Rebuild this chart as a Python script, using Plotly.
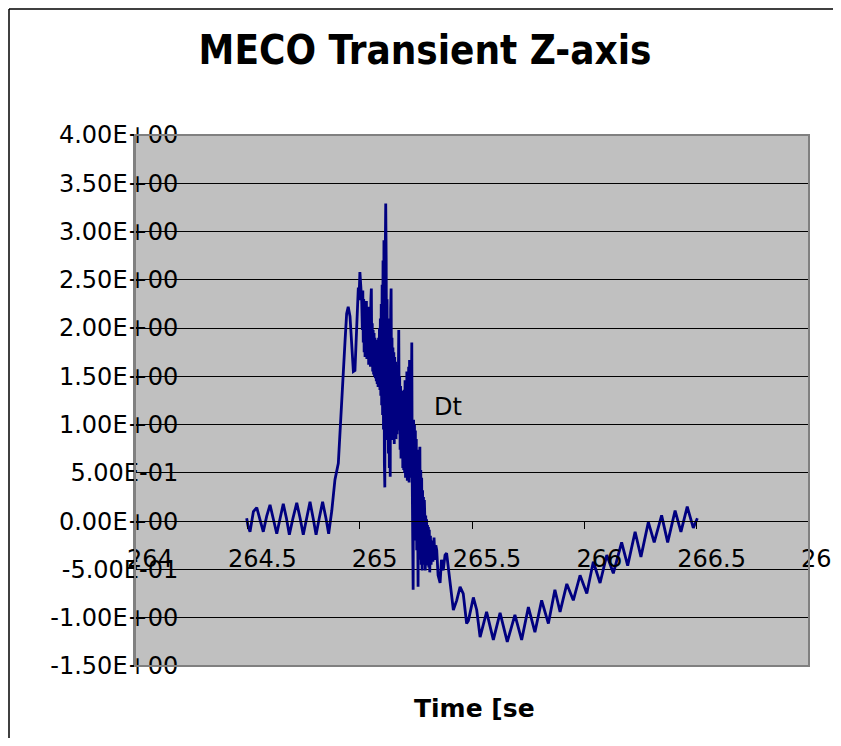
import plotly.graph_objects as go

# ---- data (time [s], value) ----
t_pre = [264.497, 264.503, 264.512, 264.520, 264.527, 264.542, 264.557, 264.571, 264.586, 264.601,
         264.616, 264.631, 264.646, 264.660, 264.674, 264.687, 264.703, 264.720, 264.735, 264.749,
         264.764, 264.779, 264.793, 264.806, 264.820, 264.835, 264.850, 264.862]
v_pre = [0.03, -0.05, -0.11, 0.02, 0.10, 0.14, 0.02, -0.11, 0.05, 0.17,
         0.02, -0.13, 0.03, 0.18, 0.03, -0.14, 0.03, 0.19, 0.03, -0.14,
         0.03, 0.20, 0.03, -0.14, 0.03, 0.20, 0.03, -0.13]

t_rise = [264.876, 264.890, 264.905, 264.912, 264.920, 264.927, 264.935, 264.942, 264.949, 264.957,
          264.965, 264.972, 264.979, 264.987, 264.994, 264.997, 265.001, 265.009]
v_rise = [0.11, 0.43, 0.60, 0.87, 1.18, 1.53, 1.87, 2.15, 2.22, 2.12,
          1.77, 1.55, 1.56, 1.98, 2.42, 2.29, 2.58, 2.29]

t_burst1 = [265.012, 265.014, 265.016, 265.018, 265.020, 265.022, 265.024, 265.026, 265.028, 265.030,
            265.032, 265.034, 265.036, 265.038, 265.040, 265.042, 265.044, 265.046, 265.048, 265.050,
            265.052, 265.054, 265.056, 265.058, 265.060, 265.062, 265.064, 265.066, 265.068, 265.070,
            265.072, 265.074, 265.076, 265.078, 265.080, 265.082, 265.084, 265.086, 265.088, 265.090,
            265.092, 265.094, 265.096, 265.098, 265.100, 265.102, 265.104, 265.106, 265.108, 265.110,
            265.112, 265.114, 265.116, 265.118, 265.120, 265.122, 265.124, 265.126, 265.128, 265.130,
            265.132, 265.134, 265.136, 265.138, 265.140, 265.142, 265.144, 265.146, 265.148, 265.150,
            265.152, 265.154, 265.156, 265.158, 265.160, 265.162, 265.164, 265.166, 265.168, 265.170,
            265.172, 265.174, 265.176]
v_burst1 = [1.98, 2.39, 1.85, 2.30, 1.75, 2.25, 1.70, 2.20, 1.80, 2.28,
            1.68, 2.15, 1.75, 2.22, 1.62, 2.10, 1.70, 2.18, 1.60, 2.30,
            2.41, 1.65, 2.05, 1.55, 1.98, 1.52, 1.95, 1.50, 1.90, 1.48,
            1.88, 1.45, 1.85, 1.42, 1.82, 1.39, 1.90, 1.45, 2.00, 1.36,
            2.10, 1.30, 2.25, 1.20, 2.45, 1.10, 2.70, 0.95, 2.91, 0.60,
            0.35, 2.81, 3.29, 2.70, 1.20, 2.30, 0.84, 2.10, 0.70, 1.98,
            0.55, 1.90, 0.46, 2.20, 2.41, 1.05, 1.90, 0.84, 1.80, 0.90,
            1.75, 0.80, 1.70, 0.95, 1.65, 0.85, 1.60, 0.90, 1.55, 0.94,
            1.75, 1.98, 1.02]

t_burst2 = [265.178, 265.180, 265.182, 265.184, 265.186, 265.188, 265.190, 265.192, 265.194, 265.196,
            265.198, 265.200, 265.202, 265.204, 265.206, 265.208, 265.210, 265.212, 265.214, 265.216,
            265.218, 265.220, 265.222, 265.224, 265.226, 265.228, 265.230, 265.232, 265.234, 265.236,
            265.238, 265.240, 265.242, 265.244, 265.246, 265.248, 265.250, 265.252, 265.254, 265.256,
            265.258, 265.260, 265.262, 265.264, 265.266, 265.268, 265.270, 265.272, 265.274, 265.276,
            265.278, 265.280, 265.282, 265.284, 265.286, 265.288, 265.290, 265.292, 265.294, 265.296,
            265.298, 265.300, 265.302, 265.304, 265.306, 265.308, 265.310, 265.312]
v_burst2 = [1.50, 0.74, 1.40, 0.65, 1.35, 0.68, 1.30, 0.55, 1.25, 0.53,
            1.36, 0.50, 1.46, 0.45, 1.40, 0.50, 1.55, 0.42, 1.50, 0.45,
            1.60, 0.40, 1.67, 0.45, 1.55, 0.53, 1.70, 1.85, 0.42, 0.10,
            -0.71, 1.05, 0.20, 1.00, 0.01, 0.94, -0.20, 0.85, -0.30, 0.74,
            -0.40, -0.68, 0.53, -0.30, 0.60, 0.77, -0.40, 0.53, -0.45, 0.45,
            -0.51, 0.32, -0.40, 0.25, -0.45, 0.22, 0.04, -0.51, 0.06, -0.45,
            0.02, -0.40, -0.04, -0.46, -0.06, -0.48, -0.09, -0.53]

t_decay = [265.315, 265.318, 265.322, 265.326, 265.331, 265.335, 265.339, 265.343, 265.349, 265.358,
           265.364, 265.372, 265.380, 265.387, 265.395, 265.402, 265.410]
v_decay = [-0.15, -0.45, -0.20, -0.42, -0.17, -0.40, -0.25, -0.30, -0.56, -0.64,
           -0.40, -0.51, -0.35, -0.33, -0.48, -0.61, -0.79]

t_post = [265.417, 265.432, 265.447, 265.461, 265.476, 265.484, 265.506, 265.521, 265.536, 265.565,
          265.595, 265.625, 265.657, 265.691, 265.721, 265.751, 265.780, 265.810, 265.840, 265.869,
          265.892, 265.922, 265.951, 265.981, 266.011, 266.040, 266.070, 266.100, 266.129, 266.166,
          266.193, 266.226, 266.252, 266.285, 266.311, 266.344, 266.371, 266.404, 266.430, 266.458,
          266.485, 266.503]
v_post = [-0.92, -0.82, -0.68, -0.75, -1.06, -1.03, -0.79, -0.92, -1.20, -0.94,
          -1.23, -0.95, -1.25, -0.97, -1.23, -0.89, -1.15, -0.82, -1.06, -0.71,
          -0.94, -0.65, -0.82, -0.56, -0.75, -0.42, -0.64, -0.35, -0.54, -0.22,
          -0.46, -0.11, -0.37, -0.01, -0.22, 0.06, -0.22, 0.11, -0.11, 0.15,
          -0.07, 0.03]

time_s = t_pre + t_rise + t_burst1 + t_burst2 + t_decay + t_post
value = v_pre + v_rise + v_burst1 + v_burst2 + v_decay + v_post

x_tickvals = [264, 264.5, 265, 265.5, 266, 266.5, 267]
x_ticktext = ["264", "264.5", "265", "265.5", "266", "266.5", "267"]
y_tickvals = [4.0, 3.5, 3.0, 2.5, 2.0, 1.5, 1.0, 0.5, 0.0, -0.5, -1.0, -1.5]
y_ticktext = ["4.00E+00", "3.50E+00", "3.00E+00", "2.50E+00", "2.00E+00", "1.50E+00",
              "1.00E+00", "5.00E-01", "0.00E+00", "-5.00E-01", "-1.00E+00", "-1.50E+00"]

title_text = "MECO Transient Z-axis"
x_title = "Time [se"
series_label = "Dt"

Y_MIN, Y_MAX = -1.5, 4.0

# page body has an 8px margin; plot area spans x 135..809, y 135..666 in the window
W, H = 833, 730
ML, MT, MR, MB = 127, 127, 32, 72
PW, PH = W - ML - MR, H - MT - MB


def px_x(px):
    return (px - 8 - ML) / PW


def px_y(py):
    return (H - MB - (py - 8)) / PH


fig = go.Figure()
fig.add_trace(go.Scatter(x=time_s, y=value, mode="lines",
                         line=dict(color="#000080", width=2.8), showlegend=False,
                         hoverinfo="skip"))

fig.update_layout(
    width=W, height=H,
    margin=dict(l=ML, r=MR, t=MT, b=MB, autoexpand=False),
    paper_bgcolor="white",
    plot_bgcolor="#c0c0c0",
    font=dict(family="DejaVu Sans", size=24, color="black"),
    title=dict(text=title_text, x=(425 - 8) / W, xanchor="center",
               y=1 - (50 - 8) / H, yanchor="middle",
               font=dict(family="DejaVu Sans Condensed, DejaVu Sans", size=40,
                         weight="bold", color="black")),
    xaxis=dict(range=[264, 267], tickvals=x_tickvals, ticktext=x_ticktext,
               anchor="free", position=(0 - Y_MIN) / (Y_MAX - Y_MIN),
               showgrid=False, zeroline=False, showline=True, linecolor="black",
               linewidth=1, ticks="outside", ticklen=7, tickcolor="black",
               ticklabelshift=15, ticklabelstandoff=9, ticklabeloverflow="allow",
               automargin=False,
               tickfont=dict(family="DejaVu Sans", size=24)),
    yaxis=dict(range=[Y_MIN, Y_MAX], tickvals=y_tickvals, ticktext=y_ticktext,
               showgrid=True, gridcolor="black", gridwidth=1, zeroline=False,
               showline=True, linecolor="#808080", linewidth=2, ticks="",
               ticklabelstandoff=-50, automargin=False,
               tickfont=dict(family="DejaVu Sans", size=24)),
    shapes=[
        dict(type="rect", xref="paper", yref="paper", x0=0, x1=1, y0=0, y1=1,
             line=dict(color="#808080", width=2), fillcolor="rgba(0,0,0,0)", layer="above"),
        dict(type="line", xref="paper", yref="paper",
             x0=px_x(9), x1=px_x(9), y0=px_y(9), y1=px_y(760),
             line=dict(color="black", width=1.5)),
        dict(type="line", xref="paper", yref="paper",
             x0=px_x(9), x1=px_x(860), y0=px_y(9), y1=px_y(9),
             line=dict(color="black", width=1.5)),
    ],
    annotations=[
        dict(text=x_title, xref="paper", yref="paper", x=px_x(474), y=px_y(708),
             xanchor="center", yanchor="middle", showarrow=False,
             font=dict(family="DejaVu Sans", size=25, weight="bold", color="black")),
        dict(text=series_label, xref="x", yref="y", x=265.322, y=1.18,
             xanchor="left", yanchor="middle", showarrow=False,
             font=dict(family="DejaVu Sans", size=24, color="black")),
    ],
)

fig.write_html("out.html")
